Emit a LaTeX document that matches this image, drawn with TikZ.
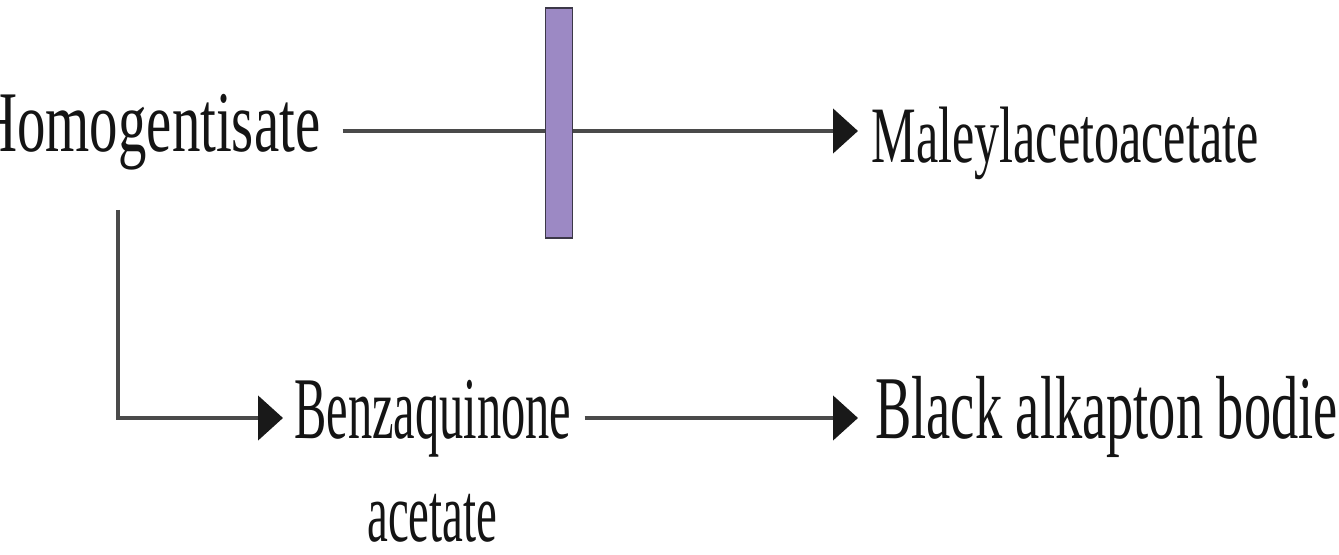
\documentclass[tikz,border=0pt]{standalone}
\usepackage{fontspec}
\setmainfont{Liberation Serif}
\usetikzlibrary{arrows.meta}
\definecolor{linegray}{HTML}{4A4A4A}
\definecolor{barfill}{HTML}{9C89C4}
\definecolor{baredge}{HTML}{3C3848}
\tikzset{
  lbl/.style={anchor=base west, inner sep=0pt, font=\fontsize{40}{44}\selectfont, text=black!92},
  conn/.style={draw=linegray, line width=2.4pt, -{Triangle[length=12.5pt,width=22pt,color=black!90,fill=black!90]}},
  plain/.style={draw=linegray, line width=2.4pt}
}
\begin{document}
\begin{tikzpicture}[x=0.5pt,y=-0.5pt]
\useasboundingbox (0,0) rectangle (1339,555);
\clip (0,0) rectangle (1339,555);
% row guides
\coordinate (r1) at (0,131);
\coordinate (r2) at (0,418);
% labels
\node[lbl] (homo) at (-24,152) {\scalebox{0.71}[1.08]{Homogentisate}};
\node[lbl] (male) at (871,163) {\scalebox{0.627}[1.0]{Maleylacetoacetate}};
\node[lbl] (benz) at (294,439) {\scalebox{0.605}[1.1]{Benzaquinone}};
\node[lbl] (acet) at (367,541) {\scalebox{0.585}[1.05]{acetate}};
\node[lbl] (black) at (875,439) {\scalebox{0.68}[1.12]{Black alkapton bodies}};
% connectors
\coordinate (hs) at (118,210);
\draw[plain] ([xshift=11pt]homo.east |- r1) -- (558,131) coordinate (barmid);
\draw[conn] (barmid) -- ([xshift=-6.5pt]male.west |- r1);
\draw[conn] (hs) -- (hs |- r2) -- ([xshift=-5.5pt]benz.west |- r2);
\draw[conn] ([xshift=6.5pt]benz.east |- r2) -- ([xshift=-8.5pt]black.west |- r2);
% inhibition bar
\node[draw=baredge, fill=barfill, line width=0.8pt, minimum width=13.5pt, minimum height=115pt, inner sep=0pt] (bar) at (559,123) {};
\end{tikzpicture}
\end{document}
